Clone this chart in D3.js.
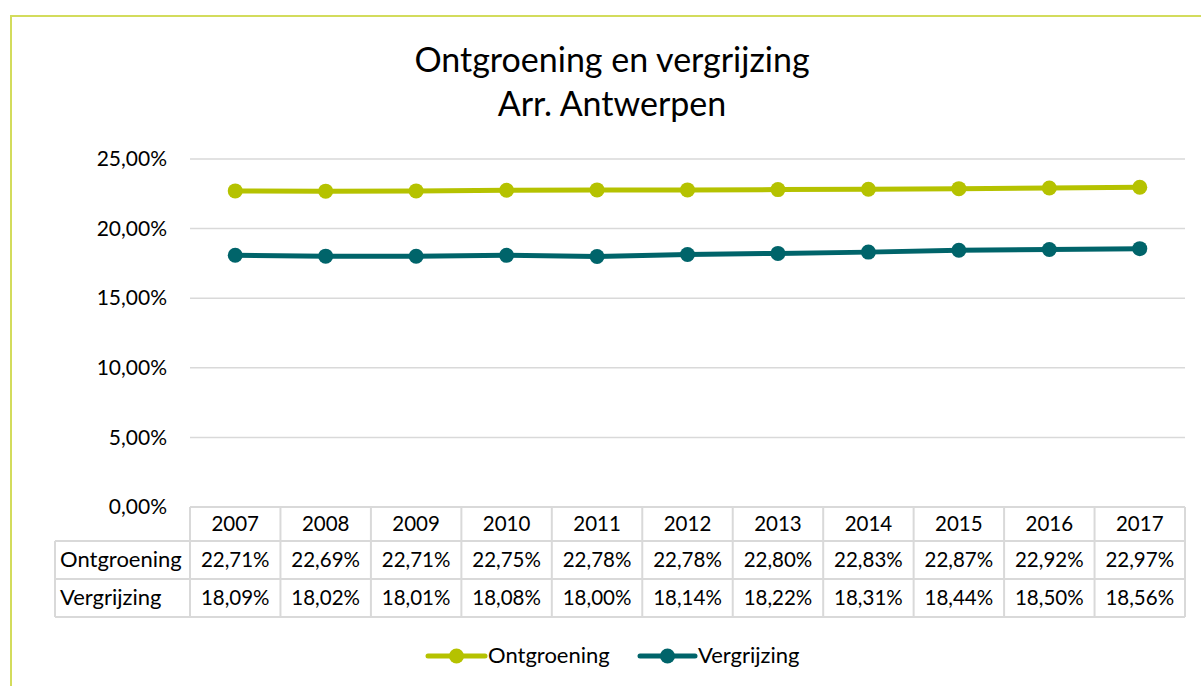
<!DOCTYPE html>
<html>
<head>
<meta charset="utf-8">
<script src="https://cdn.jsdelivr.net/npm/d3@7"></script>
<style>
  body { margin: 0; background: #fff; }
  svg { display: block; font-family: Lato, "Open Sans", sans-serif; }
</style>
</head>
<body>
<div id="chart"></div>
<script>
////////////////////////////////////////////////////////////////////////////////
// Data
var years = ['2007','2008','2009','2010','2011','2012','2013','2014','2015','2016','2017'];
var ontgroening = [22.71, 22.69, 22.71, 22.75, 22.78, 22.78, 22.80, 22.83, 22.87, 22.92, 22.97];
var vergrijzing = [18.09, 18.02, 18.01, 18.08, 18.00, 18.14, 18.22, 18.31, 18.44, 18.50, 18.56];
var yTicks = [0, 5, 10, 15, 20, 25];
var seriesNames = ['Ontgroening', 'Vergrijzing'];
var seriesColors = ['#b5c200', '#00646a'];

var width = 1201, height = 686;
var plot = {left: 190, right: 1185, top: 159, bottom: 507};
var rowH = [34, 38, 38];
var fs = 20.5;     // numbers in table
var fsLabel = 22;  // words (row labels, legend)

var svg = d3.select('#chart').append('svg')
  .attr('width', width)
  .attr('height', height);

// chart border (lime, open to right and bottom)
svg.append('path')
  .attr('d', 'M11,' + (height + 2) + 'V16H' + (width + 2))
  .attr('fill', 'none')
  .attr('stroke', '#d3dc5c')
  .attr('stroke-width', 2);

// title
var title = svg.append('text')
  .attr('text-anchor', 'middle')
  .attr('font-size', 34)
  .attr('fill', '#000');
title.append('tspan').attr('x', 612).attr('y', 72).text('Ontgroening en vergrijzing');
title.append('tspan').attr('x', 612).attr('y', 116).text('Arr. Antwerpen');

var x = d3.scaleBand().domain(years).range([plot.left, plot.right]);
var y = d3.scaleLinear().domain([0, 25]).range([plot.bottom, plot.top]);
var fmt = function(v) { return v.toFixed(2).replace('.', ',') + '%'; };

// gridlines
svg.append('g')
  .selectAll('line')
  .data(yTicks.filter(function(d){ return d > 0; }))
  .enter().append('line')
  .attr('x1', plot.left).attr('x2', plot.right)
  .attr('y1', function(d){ return y(d); })
  .attr('y2', function(d){ return y(d); })
  .attr('stroke', '#d9d9d9')
  .attr('stroke-width', 1.5);

// y axis labels
var yAxis = svg.append('g')
  .attr('transform', 'translate(' + (plot.left - 6) + ',0)')
  .call(d3.axisLeft(y).tickValues(yTicks).tickSize(0).tickPadding(17)
        .tickFormat(function(d){ return d.toFixed(2).replace('.', ',') + '%'; }));
yAxis.select('.domain').remove();
yAxis.selectAll('text')
  .attr('font-size', 21)
  .attr('font-family', 'Lato, "Open Sans", sans-serif')
  .attr('fill', '#000');

// lines
var series = [ontgroening, vergrijzing];
series.forEach(function(vals, i) {
  var pts = years.map(function(yr, j){ return {yr: yr, v: vals[j]}; });
  svg.append('path')
    .datum(pts)
    .attr('fill', 'none')
    .attr('stroke', seriesColors[i])
    .attr('stroke-width', 5)
    .attr('stroke-linejoin', 'round')
    .attr('d', d3.line()
      .x(function(d){ return x(d.yr) + x.bandwidth() / 2; })
      .y(function(d){ return y(d.v); }));
  svg.append('g').selectAll('circle')
    .data(pts)
    .enter().append('circle')
    .attr('cx', function(d){ return x(d.yr) + x.bandwidth() / 2; })
    .attr('cy', function(d){ return y(d.v); })
    .attr('r', 7.5)
    .attr('fill', seriesColors[i]);
});

// data table
var tbl = svg.append('g');
var tableLeft = 55;
var rowTops = [plot.bottom, plot.bottom + rowH[0], plot.bottom + rowH[0] + rowH[1]];
var tableBottom = rowTops[2] + rowH[2];
var gridColor = '#d9d9d9';

// horizontal lines
tbl.append('line').attr('x1', plot.left).attr('x2', plot.right)
  .attr('y1', rowTops[0]).attr('y2', rowTops[0])
  .attr('stroke', gridColor).attr('stroke-width', 2);
[rowTops[1], rowTops[2], tableBottom].forEach(function(yy) {
  tbl.append('line').attr('x1', tableLeft).attr('x2', plot.right)
    .attr('y1', yy).attr('y2', yy)
    .attr('stroke', gridColor).attr('stroke-width', 2);
});
// vertical lines
tbl.append('line').attr('x1', tableLeft).attr('x2', tableLeft)
  .attr('y1', rowTops[1]).attr('y2', tableBottom)
  .attr('stroke', gridColor).attr('stroke-width', 2);
years.concat(['end']).forEach(function(yr, j) {
  var xx = j < years.length ? x(yr) : plot.right;
  tbl.append('line').attr('x1', xx).attr('x2', xx)
    .attr('y1', rowTops[0]).attr('y2', tableBottom)
    .attr('stroke', gridColor).attr('stroke-width', 2);
});

// header text
tbl.selectAll('text.hdr')
  .data(years)
  .enter().append('text')
  .attr('class', 'hdr')
  .attr('x', function(d){ return x(d) + x.bandwidth() / 2; })
  .attr('y', rowTops[0] + rowH[0] / 2 + 7)
  .attr('text-anchor', 'middle')
  .attr('font-size', fs)
  .text(function(d){ return d; });

series.forEach(function(vals, i) {
  var ry = rowTops[i + 1] + rowH[i + 1] / 2 + 7;
  tbl.append('text')
    .attr('x', tableLeft + 5)
    .attr('y', ry)
    .attr('font-size', fsLabel)
    .text(seriesNames[i]);
  tbl.selectAll('text.v' + i)
    .data(vals)
    .enter().append('text')
    .attr('class', 'v' + i)
    .attr('x', function(d, j){ return x(years[j]) + x.bandwidth() / 2; })
    .attr('y', ry)
    .attr('text-anchor', 'middle')
    .attr('font-size', fs)
    .text(fmt);
});

// legend
var legendItems = [{x: 428, w: 57}, {x: 640, w: 55}];
var legend = svg.append('g');
legendItems.forEach(function(it, i) {
  var ly = 656;
  legend.append('line')
    .attr('x1', it.x).attr('x2', it.x + it.w)
    .attr('y1', ly).attr('y2', ly)
    .attr('stroke', seriesColors[i])
    .attr('stroke-width', 5)
    .attr('stroke-linecap', 'round');
  legend.append('circle')
    .attr('cx', it.x + it.w / 2).attr('cy', ly)
    .attr('r', 7.5)
    .attr('fill', seriesColors[i]);
  legend.append('text')
    .attr('x', it.x + it.w + 3)
    .attr('y', ly + 7)
    .attr('font-size', fsLabel)
    .text(seriesNames[i]);
});
</script>
</body>
</html>
